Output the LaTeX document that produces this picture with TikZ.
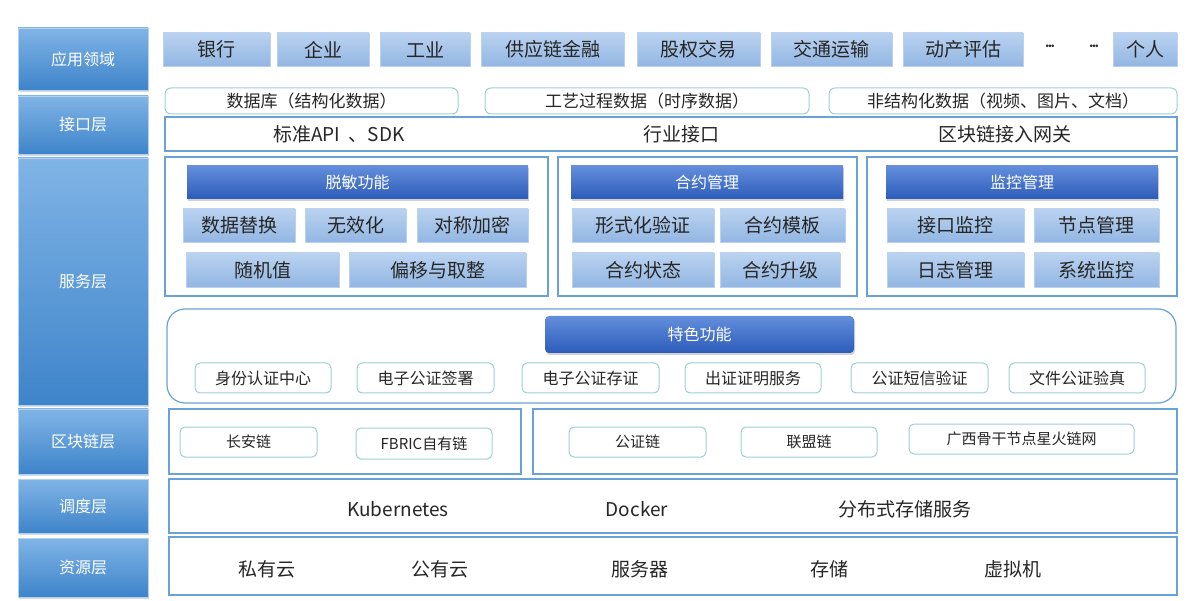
\documentclass[tikz,border=0pt]{standalone}
\usepackage{fontspec}
\setmainfont{Noto Sans CJK SC}
\usetikzlibrary{shadows}
\definecolor{lblTop}{RGB}{128,180,230}
\definecolor{lblBot}{RGB}{62,132,202}
\definecolor{appTop}{RGB}{186,210,240}
\definecolor{appBot}{RGB}{146,182,226}
\definecolor{headTop}{RGB}{100,142,220}
\definecolor{headBot}{RGB}{44,92,186}
\definecolor{frameLine}{RGB}{104,162,214}
\definecolor{tealLine}{RGB}{158,208,208}
\definecolor{txt}{RGB}{38,38,38}
\newcommand\lblWidth{130pt}
\newcommand\rowHeigh{33pt}
\newcommand\fBig{\fontsize{19}{21}\selectfont}
\newcommand\fMid{\fontsize{17}{19}\selectfont}
\newcommand\fLbl{\fontsize{16}{18}\selectfont}
\newcommand\fSmall{\fontsize{15}{17}\selectfont}
\newcommand\fDots{\fontsize{50}{52}\selectfont}
\newcommand\threeDots{$\mathord{\cdot}\mkern-3mu\mathord{\cdot}\mkern-3mu\mathord{\cdot}$}
\tikzstyle{lbl} = [rectangle, minimum width=\lblWidth, inner sep=0pt, text=white, top color=lblTop, bottom color=lblBot, draw=lblTop!60!white, drop shadow={shadow xshift=1pt, shadow yshift=-2pt, opacity=0.3}, font=\fLbl]
\tikzstyle{app} = [rectangle, minimum height=\rowHeigh, inner sep=0pt, text=txt, top color=appTop, bottom color=appBot, draw=appTop, font=\fBig]
\tikzstyle{datab} = [rectangle, rounded corners=6pt, inner sep=0pt, draw=tealLine, line width=1pt, fill=white, text=txt, font=\fMid]
\tikzstyle{frame} = [rectangle, inner sep=0pt, draw=frameLine, line width=1.2pt, fill=white]
\tikzstyle{head} = [rectangle, minimum height=\rowHeigh, inner sep=0pt, text=white, top color=headTop, bottom color=headBot, drop shadow={shadow xshift=1pt, shadow yshift=-2pt, opacity=0.35}, font=\fLbl]
\tikzstyle{feat} = [rectangle, rounded corners=5pt, minimum height=30pt, inner sep=0pt, draw=tealLine, line width=1pt, fill=white, text=txt, font=\fLbl]
\tikzstyle{plain} = [text=txt, font=\fBig]

\begin{document}
\begin{tikzpicture}[x=1pt, y=-1pt]
\useasboundingbox (0,0) rectangle (1194,601);

% layer labels
\node (lApp) [lbl, minimum height=62pt] at (83,59) {应用领域};
\node (lIf) [lbl, minimum height=58pt] at (83,125) {接口层};
\node (lSvc) [lbl, minimum height=247pt] at (83,281.5) {服务层};
\node (lChain) [lbl, minimum height=65pt] at (83,441.5) {区块链层};
\node (lSched) [lbl, minimum height=54pt] at (83,506) {调度层};
\node (lRes) [lbl, minimum height=59pt] at (83,567.5) {资源层};

% application row
\node (bank) [app, minimum width=107pt] at (216.5,49.5) {银行};
\node (ent) [app, minimum width=92pt] at (323,49.5) {企业};
\node (ind) [app, minimum width=90pt] at (425,49.5) {工业};
\node (scf) [app, minimum width=143pt] at (552.5,49.5) {供应链金融};
\node (equity) [app, minimum width=123pt] at (698.5,49.5) {股权交易};
\node (trans) [app, minimum width=121pt] at (831.5,49.5) {交通运输};
\node (asset) [app, minimum width=120pt] at (963,49.5) {动产评估};
\node (dotsA) [plain, font=\fDots, inner sep=0pt] at (1050,47) {\threeDots};
\node (dotsB) [plain, font=\fDots, inner sep=0pt] at (1094,47) {\threeDots};
\node (person) [app, minimum width=64pt] at (1145,49.5) {个人};

% interface layer
\node (db) [datab, minimum width=293pt, minimum height=26pt] at (311.5,101) {数据库（结构化数据）};
\node (proc) [datab, minimum width=324pt, minimum height=26pt] at (647,101) {工艺过程数据（时序数据）};
\node (unstr) [datab, minimum width=348pt, minimum height=26pt] at (1003,101) {非结构化数据（视频、图片、文档）};
\node (ifBar) [frame, minimum width=1012pt, minimum height=34pt] at (671,134) {};
\node (api) [plain] at (339,134) {标准API\ \ 、SDK};
\node (indIf) [plain] at (681,134) {行业接口};
\node (gw) [plain] at (1005,134) {区块链接入网关};

% service layer
\node (fMask) [frame, minimum width=383pt, minimum height=139pt] at (356.5,226.5) {};
\node (fCon) [frame, minimum width=299pt, minimum height=139pt] at (707.5,226.5) {};
\node (fMon) [frame, minimum width=310pt, minimum height=139pt] at (1022,226.5) {};
\node (hMask) [head, minimum width=341pt] at (357.5,182.5) {脱敏功能};
\node (hCon) [head, minimum width=272pt] at (707,182.5) {合约管理};
\node (hMon) [head, minimum width=272pt] at (1022,182.5) {监控管理};

\node (sub) [app, minimum width=112pt] at (239,225.5) {数据替换};
\node (nul) [app, minimum width=101pt] at (355.5,225.5) {无效化};
\node (sym) [app, minimum width=111pt] at (472.5,225.5) {对称加密};
\node (rnd) [app, minimum width=153pt, minimum height=34pt] at (262.5,270) {随机值};
\node (rnd2) [app, minimum width=177pt, minimum height=34pt] at (437.5,270) {偏移与取整};

\node (verif) [app, minimum width=142pt] at (643,225.5) {形式化验证};
\node (tmpl) [app, minimum width=125pt] at (782.5,225.5) {合约模板};
\node (state) [app, minimum width=142pt, minimum height=34pt] at (643,270) {合约状态};
\node (upg) [app, minimum width=120pt, minimum height=34pt] at (780,270) {合约升级};

\node (ifMon) [app, minimum width=137pt] at (955.5,225.5) {接口监控};
\node (node) [app, minimum width=125pt] at (1096.5,225.5) {节点管理};
\node (log) [app, minimum width=137pt, minimum height=34pt] at (955.5,270) {日志管理};
\node (sysMon) [app, minimum width=125pt, minimum height=34pt] at (1096.5,270) {系统监控};

% featured functions
\node (fFeat) [frame, rounded corners=18pt, minimum width=1009pt, minimum height=94pt] at (671.5,356) {};
\node (hFeat) [head, rounded corners=4pt, minimum width=309pt, minimum height=37pt] at (699.5,334.5) {特色功能};
\node (idc) [feat, minimum width=136pt] at (263,378) {身份认证中心};
\node (esign) [feat, minimum width=137pt] at (425.5,378) {电子公证签署};
\node (estore) [feat, minimum width=137pt] at (590.5,378) {电子公证存证};
\node (cert) [feat, minimum width=136pt] at (753,378) {出证证明服务};
\node (sms) [feat, minimum width=137pt] at (919.5,378) {公证短信验证};
\node (file) [feat, minimum width=136pt] at (1077,378) {文件公证验真};

% blockchain layer
\node (cLeft) [frame, minimum width=352pt, minimum height=65pt] at (345,441.5) {};
\node (cRight) [frame, minimum width=644pt, minimum height=65pt] at (855,441.5) {};
\node (chang) [feat, font=\fSmall, minimum width=137pt] at (248.5,442) {长安链};
\node (fbric) [feat, font=\fSmall, minimum width=136pt, minimum height=31pt] at (424,443.5) {FBRIC自有链};
\node (notary) [feat, font=\fSmall, minimum width=137pt] at (637.5,442) {公证链};
\node (alli) [feat, font=\fSmall, minimum width=136pt] at (809,442) {联盟链};
\node (spark) [feat, font=\fSmall, minimum width=225pt] at (1021.5,439) {广西骨干节点星火链网};

% scheduling layer
\node (sched) [frame, minimum width=1008pt, minimum height=54pt] at (673,506) {};
\node (k8s) [plain] at (398,509) {Kubernetes};
\node (docker) [plain] at (637,509) {Docker};
\node (dstore) [plain] at (905,509) {分布式存储服务};

% resource layer
\node (res) [frame, minimum width=1008pt, minimum height=58pt] at (673,566) {};
\node (priv) [plain] at (267,569) {私有云};
\node (pub) [plain] at (440,569) {公有云};
\node (srv) [plain] at (640,569) {服务器};
\node (stor) [plain] at (829,569) {存储};
\node (vm) [plain] at (1013,569) {虚拟机};

\end{tikzpicture}
\end{document}
